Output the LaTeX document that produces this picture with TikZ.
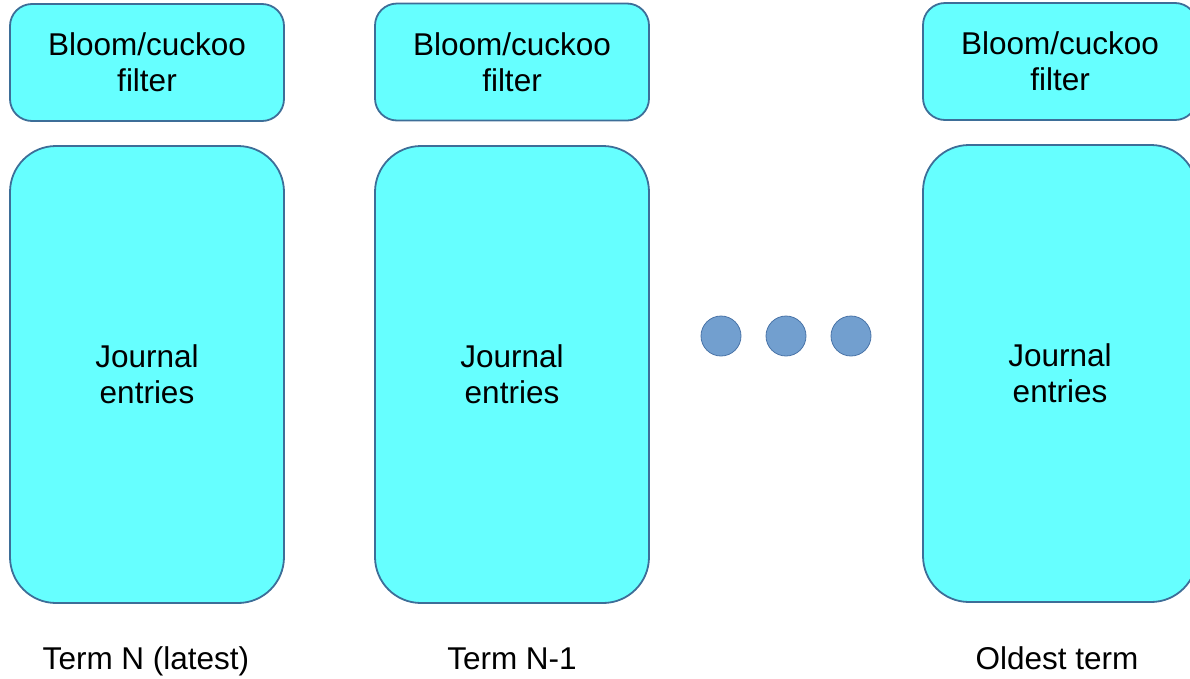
\documentclass[tikz,border=0pt]{standalone}
\usepackage{fontspec}
\setmainfont{Liberation Sans}
\begin{document}
\begin{tikzpicture}[x=1pt,y=-1pt,
  boxfill/.style={fill=cyanfill, draw=boxline, line width=1.8pt, align=center,
    font=\fontsize{31.5}{36}\selectfont, inner sep=0pt},
  filterbox/.style={boxfill, rounded corners=22pt, minimum width=274pt, minimum height=117pt},
  journalbox/.style={boxfill, rounded corners=46pt, minimum width=274pt, minimum height=457pt},
  dot/.style={circle, fill=dotfill, draw=dotline, line width=0.8pt, minimum size=40pt, inner sep=0pt},
  termlabel/.style={font=\fontsize{31.5}{36}\selectfont, anchor=base}
]
\definecolor{cyanfill}{HTML}{66FFFF}
\definecolor{boxline}{HTML}{3D6E98}
\definecolor{dotfill}{HTML}{729FCF}
\definecolor{dotline}{HTML}{4A74A8}
\useasboundingbox (0,0) rectangle (1190,678);
\clip (0,0) rectangle (1190,678);

% column for term N
\node[filterbox] (f1) at (147,62.5) {Bloom/cuckoo\\filter};
\node[journalbox] (j1) at (147,374.5) {Journal\\entries};
\node[termlabel] (t1) at (146,669) {Term N (latest)};

% column for term N-1
\node[filterbox] (f2) at (512,62) {Bloom/cuckoo\\filter};
\node[journalbox] (j2) at (512,374.5) {Journal\\entries};
\node[termlabel] (t2) at (512,669) {Term N-1};

% column for the oldest term
\node[filterbox] (f3) at (1060,61.5) {Bloom/cuckoo\\filter};
\node[journalbox] (j3) at (1060,373.5) {Journal\\entries};
\node[termlabel] (t3) at (1057,669) {Oldest term};

% ellipsis between columns
\node[dot] (d1) at (721,336) {};
\node[dot] (d2) at (786,336) {};
\node[dot] (d3) at (851,336) {};
\end{tikzpicture}
\end{document}
